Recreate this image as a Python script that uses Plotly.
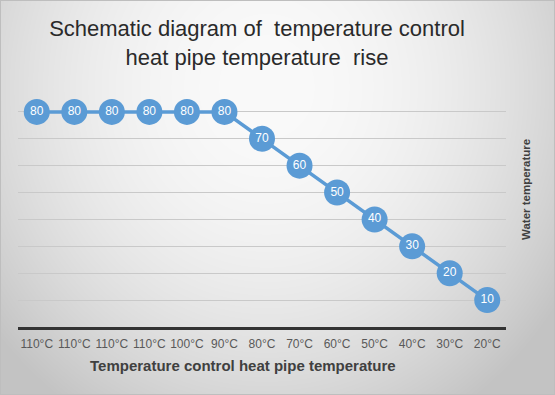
import base64
import struct
import zlib

import numpy as np
import plotly.graph_objects as go

# ---- data ----
temp_labels = ["20°C", "30°C", "40°C", "50°C", "60°C", "70°C", "80°C",
               "90°C", "100°C", "110°C", "110°C", "110°C", "110°C"]
water_temp = [10, 20, 30, 40, 50, 60, 70, 80, 80, 80, 80, 80, 80]
positions = list(range(len(temp_labels)))

title_text = "Schematic diagram of  temperature control<br>heat pipe temperature  rise"
x_title = "Temperature control heat pipe temperature"
y_title = "Water temperature"

W, H = 555, 395
L, R, T, B = 18, 49, 85, 68
PW, PH = W - L - R, H - T - B


# ---- gradient background image ----
def make_png(arr):
    h, w, _ = arr.shape
    raw = b"".join(b"\x00" + arr[i].tobytes() for i in range(h))

    def chunk(tag, data):
        c = struct.pack(">I", len(data)) + tag + data
        return c + struct.pack(">I", zlib.crc32(tag + data) & 0xFFFFFFFF)

    png = b"\x89PNG\r\n\x1a\n"
    png += chunk(b"IHDR", struct.pack(">IIBBBBB", w, h, 8, 2, 0, 0, 0))
    png += chunk(b"IDAT", zlib.compress(raw, 9))
    png += chunk(b"IEND", b"")
    return "data:image/png;base64," + base64.b64encode(png).decode()


yy, xx = np.mgrid[0:H, 0:W]
dx = (xx - W * 0.48) / (W * 0.62)
dy = (yy - H * 0.22) / (H * 0.95)
d2 = dx ** 2 + dy ** 2
val = np.clip(250 - 52 * d2, 195, 252)
img = np.stack([val, val, val], axis=-1).astype(np.uint8)
img[0, :, :] = 190
img[-1, :, :] = 190
img[:, 0, :] = 190
img[:, -1, :] = 190
bg_src = make_png(img)

fig = go.Figure()
fig.add_trace(go.Scatter(
    x=positions,
    y=water_temp,
    mode="lines+markers+text",
    text=[str(v) for v in water_temp],
    textposition="middle center",
    textfont=dict(family="Liberation Sans, Arial", size=12, color="white"),
    line=dict(color="#5b9bd5", width=3.5),
    marker=dict(size=26, color="#5b9bd5"),
    hoverinfo="skip",
    cliponaxis=False,
))

fig.update_layout(
    width=W, height=H,
    margin=dict(l=L, r=R, t=T, b=B),
    paper_bgcolor="#e4e4e4",
    plot_bgcolor="rgba(0,0,0,0)",
    showlegend=False,
    font=dict(family="Liberation Sans, Arial", color="#595959"),
    title=dict(
        text=title_text,
        x=257 / W, xanchor="center",
        y=1 - 36 / H, yanchor="top",
        font=dict(size=22, color="#2a2a2a"),
    ),
    images=[dict(
        source=bg_src, xref="paper", yref="paper",
        x=-L / PW, y=1 + T / PH, sizex=W / PW, sizey=H / PH,
        xanchor="left", yanchor="top", sizing="stretch", layer="below",
    )],
)

fig.update_xaxes(
    range=[len(positions) - 0.5, -0.5],
    tickmode="array",
    tickvals=positions,
    ticktext=temp_labels,
    tickfont=dict(size=12, color="#595959"),
    showgrid=False,
    zeroline=False,
    showline=True,
    linecolor="#333333",
    linewidth=2.5,
    ticks="outside",
    ticklen=4,
    tickcolor="rgba(0,0,0,0)",
)

fig.update_yaxes(
    range=[0, 90],
    dtick=10,
    showticklabels=False,
    showgrid=True,
    gridcolor="#c9c9c9",
    gridwidth=1,
    zeroline=False,
    showline=False,
)

fig.add_annotation(
    text="<b>" + x_title + "</b>", xref="paper", yref="paper",
    x=(243 - L) / PW, y=(H - B - 365) / PH,
    xanchor="center", yanchor="middle", showarrow=False,
    font=dict(size=15, color="#404040", family="Liberation Sans, Arial"),
)
fig.add_annotation(
    text="<b>" + y_title + "</b>", xref="paper", yref="paper",
    x=(526 - L) / PW, y=(H - B - 190) / PH,
    xanchor="center", yanchor="middle", showarrow=False, textangle=-90,
    font=dict(size=11.5, color="#404040", family="Liberation Sans, Arial"),
)

fig.write_html("out.html", config={"displayModeBar": False},
               post_script="document.body.style.margin='0';")
